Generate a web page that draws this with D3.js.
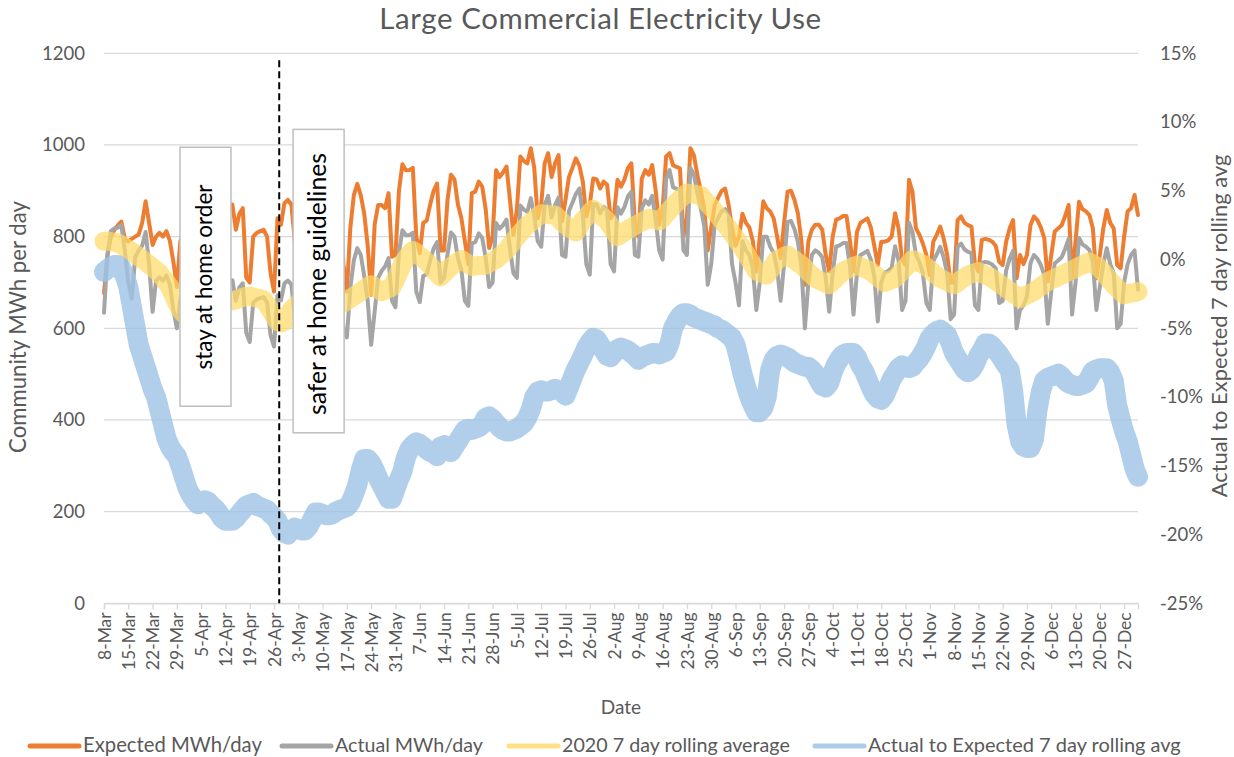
<!DOCTYPE html>
<html>
<head>
<meta charset="utf-8">
<script src="https://cdn.jsdelivr.net/npm/d3@7"></script>
<style>
  body { margin: 0; background: #fff; }
  text { font-family: Lato, "Open Sans", sans-serif; fill: #595959; }
</style>
</head>
<body>
<div id="chart"></div>
<script>
// daily values, 8-Mar-2020 .. 31-Dec-2020 (one row per week, Sun..Sat)
const startDate = new Date(2020, 2, 8);

const expected = [
  677,760,800,815,825,833,795, 790,795,800,805,830,877,830, 782,800,808,800,812,790,745,
  690,790,810,815,805,800,740, 720,820,840,850,845,850,790, 745,870,870,815,850,862,710,
  700,800,808,812,815,800,720, 680,840,826,873,880,870,790, 720,860,875,880,885,870,790,
  720,870,885,890,890,870,740, 680,820,890,915,890,850,780, 673,826,869,869,862,895,756,
  760,900,958,945,945,950,800, 764,830,835,870,900,916,770, 770,880,935,925,870,840,790,
  740,895,898,920,909,860,775, 800,945,930,940,953,880,804, 860,975,965,960,993,950,840,
  870,960,982,930,960,978,833, 880,930,950,971,955,920,844, 870,927,925,905,920,913,840,
  850,924,909,925,950,960,830, 800,927,945,935,956,900,826, 860,975,982,956,952,949,800,
  840,993,978,935,900,860,770, 820,869,885,900,905,870,820, 780,800,850,830,820,790,724,
  800,877,862,855,840,800,753, 830,898,900,880,850,790,695, 790,815,826,826,815,760,724,
  800,837,840,845,845,790,724, 810,830,835,840,820,780,738, 789,789,792,800,851,818,750,
  738,924,898,818,804,785,760, 716,789,804,822,796,760,700, 700,836,844,830,825,822,740,
  724,793,795,793,789,780,745, 738,789,818,836,709,760,740, 760,825,844,836,820,796,702,
  760,811,818,825,845,869,709, 790,876,860,855,847,818,709, 760,818,858,830,818,738,731,
  800,855,862,891,847
];

const actual = [
  634,760,812,818,820,825,770, 700,665,755,770,780,810,740, 636,704,711,704,715,695,640,
  600,664,680,685,676,672,610, 590,672,689,697,693,697,620, 600,705,705,660,689,698,590,
  570,656,663,666,668,656,585, 560,672,661,698,704,696,620, 580,697,709,713,717,705,620,
  585,709,721,725,725,709,600, 580,689,748,775,760,714,660, 564,636,710,725,735,753,660,
  646,765,814,803,803,808,680, 657,714,718,748,774,788,700, 710,761,809,800,753,727,660,
  649,785,788,807,797,754,690, 700,830,817,825,837,773,720, 710,868,859,854,884,845,790,
  778,869,889,842,869,885,760, 756,856,874,893,905,846,740, 717,871,870,851,865,858,740,
  724,864,850,865,888,898,760, 756,862,879,870,889,837,770, 750,926,945,908,904,902,770,
  760,950,936,895,861,823,695, 740,826,841,855,860,850,740, 700,650,790,770,760,730,640,
  700,800,800,778,765,728,660, 740,832,834,816,788,732,600, 700,760,770,765,755,710,636,
  720,778,781,786,786,735,630, 720,760,764,769,750,714,615, 700,722,725,732,779,748,640,
  660,830,810,760,745,720,655, 640,747,761,778,754,720,620, 630,777,785,772,767,764,650,
  640,743,745,743,739,731,655, 660,726,752,769,600,640,650, 670,742,760,752,738,716,610,
  680,742,748,755,773,795,630, 700,797,783,778,771,744,640, 690,740,775,740,720,600,610,
  700,740,760,770,684
];

const rolling = [
  790,790,789,788,786,782,777, 772,767,762,756,751,745,739, 733,726,720,710,700,690,672,
  655,640,632,628,628,632,638, 645,650,655,660,663,664,664, 662,660,660,662,665,668,670,
  670,668,666,665,662,652,640, 627,615,612,615,628,640,648, 655,660,663,665,665,664,662,
  660,658,656,655,654,654,655, 660,665,670,675,680,686,691, 695,690,685,680,683,687,690,
  705,722,740,752,762,770,765, 758,752,745,737,728,720,712, 720,728,735,740,745,750,745,
  740,735,736,737,737,738,742, 746,750,757,763,770,780,790, 800,808,817,825,831,838,844,
  850,849,848,848,847,840,832, 825,820,815,810,822,835,843, 852,860,854,848,841,835,823,
  812,800,805,810,815,820,824, 828,832,836,840,838,836,834, 840,850,858,866,874,882,889,
  895,894,893,891,890,881,872, 864,855,846,836,827,818,807, 797,786,775,763,750,738,725,
  722,719,716,727,739,750,753, 757,760,754,749,743,738,731, 723,716,709,705,702,698,695,
  702,710,717,724,728,731,735, 738,735,731,728,724,718,712, 706,700,703,706,709,717,725,
  733,741,750,747,743,740,734, 728,721,715,709,705,702,698, 695,700,706,711,716,719,721,
  724,720,716,713,709,703,698, 693,687,682,676,671,665,669, 673,676,680,686,691,697,702,
  706,709,713,716,720,724,727, 731,735,738,742,745,740,736, 731,722,713,704,695,688,680,
  673,675,677,678,680
];

// actual to expected, 7 day rolling avg (%)
const ratio = [
  -0.9,-0.7,-0.5,-0.4,-0.4,-0.6,-1.2, -2.0,-3.4,-4.8,-6.2,-7.0,-7.8,-8.6,
  -9.4,-10.0,-11.0,-12.0,-13.0,-13.6,-14.0, -14.3,-15.0,-15.8,-16.6,-17.1,-17.5,-17.8,
  -17.6,-17.5,-17.6,-17.9,-18.1,-18.4,-18.8, -19.0,-19.0,-19.0,-18.8,-18.5,-18.2,-17.9,
  -17.8,-17.7,-17.9,-18.0,-18.1,-18.2,-18.5, -18.7,-19.0,-19.6,-19.9,-20.0,-19.7,-19.5,
  -19.6,-19.7,-19.7,-19.4,-18.9,-18.4,-18.4, -18.5,-18.6,-18.6,-18.5,-18.3,-18.2,-18.1,
  -18.0,-17.7,-17.1,-16.4,-15.3,-14.5,-14.5, -14.8,-15.3,-15.9,-16.4,-16.9,-17.4,-17.4,
  -16.7,-16.0,-15.4,-14.4,-13.8,-13.5,-13.3, -13.4,-13.6,-13.8,-14.0,-14.1,-14.3,-13.6,
  -13.5,-13.8,-14.0,-13.6,-13.2,-12.8,-12.4, -12.3,-12.4,-12.3,-12.2,-12.0,-11.5,-11.4,
  -11.6,-11.9,-12.2,-12.4,-12.5,-12.5,-12.4, -12.3,-12.1,-11.9,-11.5,-10.9,-10.0,-9.6,
  -9.5,-9.6,-9.6,-9.5,-9.4,-9.5,-9.6, -9.9,-9.3,-8.6,-8.0,-7.5,-7.0,-6.4,
  -6.0,-5.7,-5.8,-6.2,-6.6,-7.0,-7.1, -6.8,-6.5,-6.4,-6.5,-6.6,-6.8,-7.0,
  -7.3,-7.1,-7.0,-6.9,-6.8,-6.8,-6.9, -6.8,-6.7,-6.1,-5.0,-4.5,-4.1,-3.9,
  -3.9,-4.0,-4.2,-4.3,-4.4,-4.5,-4.6, -4.7,-4.8,-5.0,-5.1,-5.3,-5.5,-5.7,
  -6.2,-7.2,-8.3,-9.2,-10.0,-10.6,-11.1, -11.1,-10.8,-10.0,-8.0,-7.3,-7.0,-6.9,
  -7.0,-7.1,-7.3,-7.5,-7.6,-7.7,-7.8, -7.8,-8.0,-8.3,-8.8,-9.2,-9.3,-9.0,
  -8.2,-7.6,-7.2,-6.9,-6.8,-6.8,-6.8, -7.1,-7.7,-8.1,-8.7,-9.3,-9.8,-10.1,
  -10.2,-9.9,-9.3,-8.7,-8.3,-7.9,-7.7, -7.8,-7.9,-7.8,-7.5,-7.2,-6.8,-6.3,
  -5.7,-5.4,-5.2,-5.1,-5.3,-5.5,-6.1, -6.8,-7.2,-7.6,-8.0,-8.2,-8.0,-7.6,
  -7.0,-6.6,-6.1,-6.1,-6.3,-6.6,-6.9, -7.3,-7.7,-8.0,-9.5,-12.0,-13.2,-13.6,
  -13.7,-13.7,-13.1,-11.0,-9.6,-8.8,-8.6, -8.5,-8.4,-8.3,-8.5,-8.8,-9.0,-9.1,
  -9.2,-9.2,-9.1,-9.0,-8.6,-8.1,-8.0, -7.9,-7.9,-7.9,-8.2,-8.8,-10.6,-11.6,
  -12.5,-13.2,-14.2,-15.2,-15.8
];

const leftTicks = [0, 200, 400, 600, 800, 1000, 1200];
const rightTicks = [-25, -20, -15, -10, -5, 0, 5, 10, 15];
const seriesNames = ["Expected MWh/day", "Actual MWh/day", "2020 7 day rolling average", "Actual to Expected 7 day rolling avg"];
const notes = ["stay at home order", "safer at home guidelines"];

const width = 1234, height = 757;
const plot = {left: 104, right: 1138, top: 53.3, bottom: 603.3};

const dates = expected.map((v, i) => d3.timeDay.offset(startDate, i));
const weekTicks = dates.filter((d, i) => i % 7 === 0);
const dayPos = n => new Date(startDate.getTime() + n * 864e5);

const x = d3.scaleTime()
  .domain([dates[0], dates[dates.length - 1]])
  .range([plot.left, plot.right]);
const y = d3.scaleLinear().domain([0, 1200]).range([plot.bottom, plot.top]);
const yR = d3.scaleLinear().domain([-25, 15]).range([plot.bottom, plot.top]);

const svg = d3.select("#chart").append("svg")
  .attr("width", width)
  .attr("height", height);

// scale a text's font so it spans the width the reference shows
function fitText(sel, target) {
  const len = sel.node().getComputedTextLength();
  const fs = parseFloat(sel.style("font-size"));
  sel.style("font-size", (fs * target / len) + "px");
  return sel;
}

// title
const title = svg.append("text")
  .attr("x", 600.5)
  .attr("y", 29)
  .style("text-anchor", "middle")
  .style("font-size", "26px")
  .style("letter-spacing", "0.6px")
  .text("Large Commercial Electricity Use");
fitText(title, 445);

// gridlines
svg.append("g")
  .selectAll("line")
  .data(leftTicks)
  .enter().append("line")
  .attr("x1", plot.left)
  .attr("x2", plot.right)
  .attr("y1", d => y(d))
  .attr("y2", d => y(d))
  .style("stroke", "#d9d9d9")
  .style("stroke-width", 1.3);

// x axis
const xAxis = svg.append("g")
  .attr("transform", "translate(0," + plot.bottom + ")")
  .call(d3.axisBottom(x)
    .tickValues(weekTicks)
    .tickSize(6)
    .tickFormat(d3.timeFormat("%-d-%b")));
xAxis.select(".domain").style("stroke", "#d9d9d9").style("stroke-width", 1.3);
xAxis.selectAll(".tick line").style("stroke", "#d9d9d9").style("stroke-width", 1.3);
xAxis.selectAll("text")
  .attr("y", 0)
  .attr("x", -9)
  .attr("dy", "0.35em")
  .attr("transform", "rotate(-90)")
  .style("text-anchor", "end")
  .style("font-size", "17.5px")
  .style("fill", "#595959");

// left axis
const yAxis = svg.append("g")
  .attr("transform", "translate(" + plot.left + ",0)")
  .call(d3.axisLeft(y).tickValues(leftTicks).tickSize(0).tickPadding(19)
    .tickFormat(d3.format("d")));
yAxis.select(".domain").remove();
yAxis.selectAll("text").style("font-size", "18.5px").style("fill", "#595959");

// right axis
const yAxisR = svg.append("g")
  .attr("transform", "translate(" + plot.right + ",0)")
  .call(d3.axisRight(yR).tickValues(rightTicks).tickSize(0).tickPadding(22)
    .tickFormat(d => d + "%"));
yAxisR.select(".domain").remove();
yAxisR.selectAll("text").style("font-size", "18.5px").style("fill", "#595959");

// axis titles
const leftTitle = svg.append("text")
  .attr("transform", "translate(26,327) rotate(-90)")
  .style("text-anchor", "middle")
  .style("font-size", "19px")
  .text("Community MWh per day");
fitText(leftTitle, 252);

const rightTitle = svg.append("text")
  .attr("transform", "translate(1227,326) rotate(-90)")
  .style("text-anchor", "middle")
  .style("font-size", "18px")
  .text("Actual to Expected 7 day rolling avg");
fitText(rightTitle, 343);

svg.append("text")
  .attr("x", 621)
  .attr("y", 714)
  .style("text-anchor", "middle")
  .style("font-size", "19px")
  .text("Date");

// series
const lineL = d3.line().x((d, i) => x(dates[i])).y(d => y(d));
const lineR = d3.line().x((d, i) => x(dates[i])).y(d => yR(d));

svg.append("path").datum(expected)
  .attr("d", lineL)
  .style("fill", "none").style("stroke", "#ed7d31")
  .style("stroke-width", 4).style("stroke-linejoin", "round").style("stroke-linecap", "round");

svg.append("path").datum(actual)
  .attr("d", lineL)
  .style("fill", "none").style("stroke", "#a5a5a5")
  .style("stroke-width", 4).style("stroke-linejoin", "round").style("stroke-linecap", "round");

svg.append("path").datum(rolling)
  .attr("d", lineL)
  .style("fill", "none").style("stroke", "#ffd966").style("stroke-opacity", 0.72)
  .style("stroke-width", 19).style("stroke-linejoin", "round").style("stroke-linecap", "round");

svg.append("path").datum(ratio)
  .attr("d", lineR)
  .style("fill", "none").style("stroke", "#9dc3e6").style("stroke-opacity", 0.8)
  .style("stroke-width", 20).style("stroke-linejoin", "round").style("stroke-linecap", "round");

// dashed marker
svg.append("line")
  .attr("x1", x(dayPos(50.5)))
  .attr("x2", x(dayPos(50.5)))
  .attr("y1", y(1185))
  .attr("y2", y(0))
  .style("stroke", "#000")
  .style("stroke-width", 2)
  .style("stroke-dasharray", "7,4");

// annotation boxes
const boxes = [
  {text: notes[0], d0: 21.9, d1: 36.6, v0: 430, v1: 995, len: 185, mid: 277},
  {text: notes[1], d0: 54.5, d1: 69.2, v0: 372, v1: 1034, len: 262, mid: 284}
];
boxes.forEach(b => {
  const bx = x(dayPos(b.d0)), bw = x(dayPos(b.d1)) - bx;
  svg.append("rect")
    .attr("x", bx).attr("y", y(b.v1))
    .attr("width", bw).attr("height", y(b.v0) - y(b.v1))
    .style("fill", "#fff").style("stroke", "#bfbfbf").style("stroke-width", 1.5);
  const t = svg.append("text")
    .attr("transform", "translate(" + (bx + bw / 2 + 7) + "," + b.mid + ") rotate(-90)")
    .style("text-anchor", "middle")
    .style("font-size", "21px")
    .style("fill", "#000")
    .text(b.text);
  fitText(t, b.len);
});

// legend
const legendItems = [
  {name: seriesNames[0], color: "#ed7d31", op: 1, x: 30, len: 179},
  {name: seriesNames[1], color: "#a5a5a5", op: 1, x: 282, len: 148},
  {name: seriesNames[2], color: "#ffd966", op: 0.8, x: 509, len: 228},
  {name: seriesNames[3], color: "#9dc3e6", op: 0.85, x: 815, len: 313}
];
const legend = svg.append("g");
legendItems.forEach(it => {
  legend.append("line")
    .attr("x1", it.x).attr("x2", it.x + 49)
    .attr("y1", 746).attr("y2", 746)
    .style("stroke", it.color).style("stroke-opacity", it.op)
    .style("stroke-width", 5).style("stroke-linecap", "round");
  const t = legend.append("text")
    .attr("x", it.x + 53).attr("y", 752)
    .style("font-size", "18px")
    .text(it.name);
  fitText(t, it.len);
});
</script>
</body>
</html>
